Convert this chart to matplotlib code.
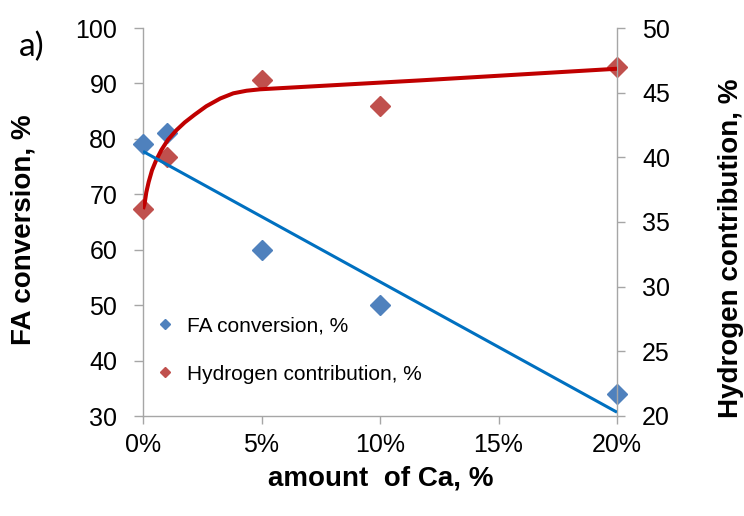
import numpy as np
import matplotlib
matplotlib.use("Agg")
import matplotlib.pyplot as plt
from matplotlib.lines import Line2D
from matplotlib.ticker import FuncFormatter

# amount of Ca, %
ca = [0, 1, 5, 10, 20]
# FA conversion, % (left axis)
fa_conv = [79, 81, 60, 50, 34]
# Hydrogen contribution, % (right axis)
h2_contrib = [36, 40, 46, 44, 47]

# smoothed trend curve for hydrogen contribution
curve_x = [0, 0.07, 0.14, 0.24, 0.38, 0.56, 0.77, 1.05, 1.41, 1.76, 2.18,
           2.67, 3.26, 3.81, 4.37, 4.94, 5.71, 11.7, 20]
curve_h = [36.0, 36.45, 37.3, 38.1, 39.0, 39.8, 40.55, 41.35, 42.1, 42.7, 43.3,
           43.95, 44.55, 44.95, 45.15, 45.26, 45.34, 45.95, 46.85]

plt.rcParams['font.family'] = ['Liberation Sans', 'DejaVu Sans']

blue_m = '#4F81BD'
red_m = '#C0504D'
blue_l = '#0070C0'
red_l = '#C00000'
spine_c = '#A6A6A6'

fig = plt.figure(figsize=(7.44, 5.16), dpi=100)
ax1 = fig.add_axes([143 / 744, 1 - 416 / 516, (617 - 143) / 744, (416 - 28) / 516])
ax2 = ax1.twinx()

ax1.set_xlim(0, 20)
ax1.set_ylim(30, 100)
ax2.set_ylim(20, 50)

# blue markers on the left axis
ax1.plot(ca, fa_conv, linestyle='none', marker='D', ms=10.5, color=blue_m,
         clip_on=False, zorder=3)

# red markers on the right axis
ax2.plot(ca, h2_contrib, linestyle='none', marker='D', ms=10.5, color=red_m,
         clip_on=False, zorder=2)
ax2.plot(curve_x, curve_h, color=red_l, lw=2.9, zorder=3,
         solid_capstyle='butt', solid_joinstyle='round')

# linear trend of FA conversion, drawn on top axes in left-axis coordinates
coef = np.polyfit(ca, fa_conv, 1)
fit_x = np.array([0, 20])
ax2.plot(fit_x, np.polyval(coef, fit_x), color=blue_l, lw=2.2,
         transform=ax1.transData, zorder=4, solid_capstyle='butt')

# axes styling
for ax in (ax1, ax2):
    ax.spines['top'].set_visible(False)
    for s in ('left', 'right', 'bottom'):
        ax.spines[s].set_color(spine_c)
        ax.spines[s].set_linewidth(1.0)
ax1.spines['right'].set_visible(False)
ax2.spines['left'].set_visible(False)
ax2.spines['bottom'].set_visible(False)

ax1.set_xticks([0, 5, 10, 15, 20])
ax1.xaxis.set_major_formatter(FuncFormatter(lambda v, p: f"{int(v)}%"))
ax1.set_yticks(range(30, 101, 10))
ax2.set_yticks(range(20, 51, 5))

ax1.tick_params(axis='x', direction='out', length=6, width=1, color=spine_c,
                labelsize=18, pad=6)
ax1.tick_params(axis='y', direction='out', length=6.5, width=1, color=spine_c,
                labelsize=18, pad=12)
ax2.tick_params(axis='y', direction='out', length=6, width=1, color=spine_c,
                labelsize=18, pad=12)

# legend
handles = [
    Line2D([], [], linestyle='none', marker='D', ms=5, color=blue_m),
    Line2D([], [], linestyle='none', marker='D', ms=5, color=red_m),
]
ax2.legend(handles, ['FA conversion, %', 'Hydrogen contribution, %'],
           loc='center left', bbox_to_anchor=(0.2078, 0.3217),
           bbox_transform=fig.transFigure, frameon=False, fontsize=15,
           handlelength=1.0, handletextpad=0.56, labelspacing=1.4,
           borderpad=0, borderaxespad=0)

# axis titles
fig.text(0.031, 0.554, 'FA conversion, %', rotation=90, ha='center', va='center',
         fontsize=20, fontweight='bold')
fig.text(0.9825, 0.519, 'Hydrogen contribution, %', rotation=90, ha='center',
         va='center', fontsize=20, fontweight='bold')
fig.text(0.512, 0.072, 'amount  of Ca, %', ha='center', va='center',
         fontsize=20, fontweight='bold')
fig.text(0.042, 0.909, 'a)', ha='center', va='center', fontsize=24,
         family=['Lato', 'DejaVu Sans'])

fig.savefig('out.png', dpi=100)
